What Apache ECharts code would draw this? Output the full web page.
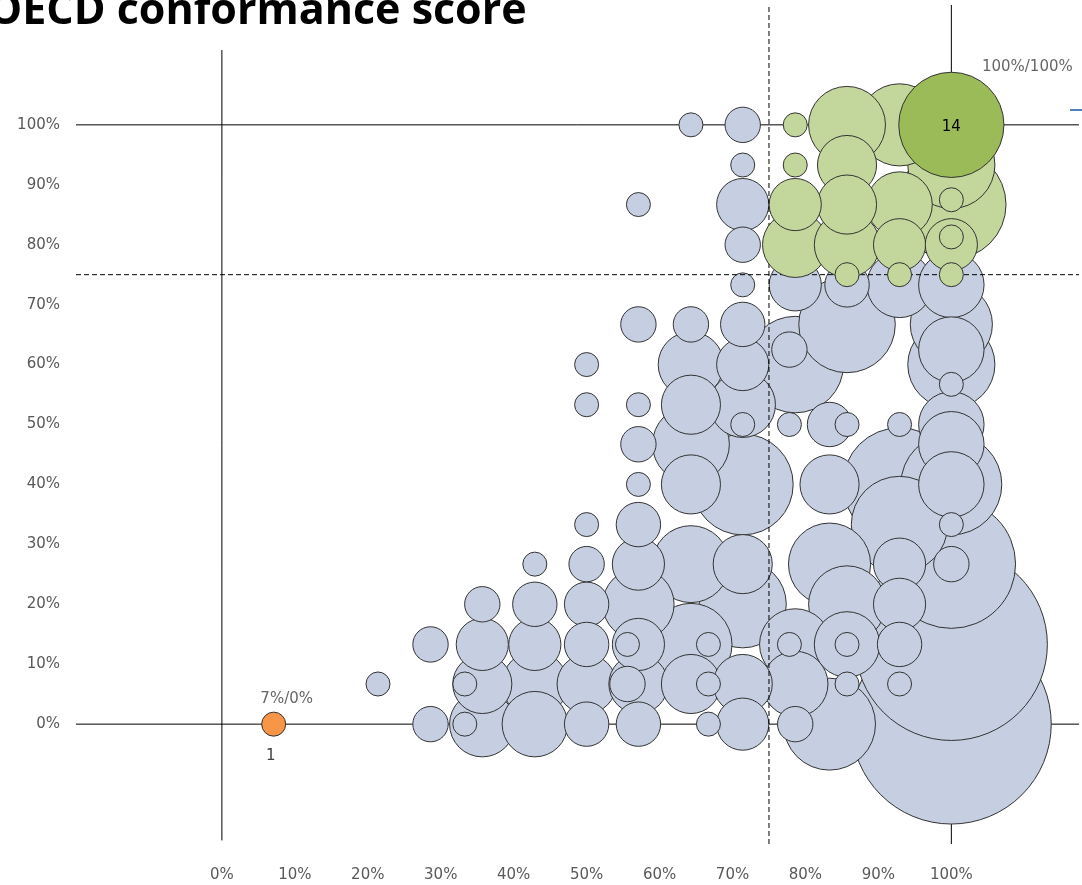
<!DOCTYPE html>
<html>
<head>
<meta charset="utf-8">
<title>OECD conformance score</title>
<script src="https://cdn.jsdelivr.net/npm/echarts@6/dist/echarts.min.js"></script>
<style>
  html, body { margin: 0; padding: 0; background: #fff; }
  #main { width: 1082px; height: 885px; }
</style>
</head>
<body>
<div id="main"></div>
<script>
// bubbles: [x %, y %, count]
var blueBubbles = [
    [21.4, 6.7, 1],
    [28.6, 13.3, 2], [28.6, 0, 2],
    [33.3, 6.7, 1], [33.3, 0, 1],
    [35.7, 20, 2], [35.7, 13.3, 4], [35.7, 6.7, 5], [35.7, 0, 6],
    [42.9, 26.7, 1], [42.9, 20, 3], [42.9, 13.3, 4], [42.9, 6.7, 6], [42.9, 0, 6],
    [50, 60, 1], [50, 53.3, 1], [50, 33.3, 1], [50, 26.7, 2], [50, 20, 3], [50, 13.3, 3], [50, 6.7, 5], [50, 0, 3],
    [55.6, 13.3, 1], [55.6, 6.7, 2],
    [57.1, 86.7, 1], [57.1, 66.7, 2], [57.1, 53.3, 1], [57.1, 46.7, 2], [57.1, 40, 1], [57.1, 33.3, 3],
    [57.1, 26.7, 4], [57.1, 20, 7], [57.1, 13.3, 4], [57.1, 6.7, 5], [57.1, 0, 3],
    [64.3, 100, 1], [64.3, 66.7, 2], [64.3, 60, 6], [64.3, 53.3, 5], [64.3, 46.7, 8], [64.3, 40, 5],
    [64.3, 26.7, 8], [64.3, 13.3, 9], [64.3, 6.7, 5],
    [66.7, 13.3, 1], [66.7, 6.7, 1], [66.7, 0, 1],
    [71.4, 100, 2], [71.4, 93.3, 1], [71.4, 86.7, 4], [71.4, 80, 2], [71.4, 73.3, 1], [71.4, 66.7, 3],
    [71.4, 60, 4], [71.4, 53.3, 6], [71.4, 50, 1], [71.4, 40, 13], [71.4, 26.7, 5], [71.4, 20, 10],
    [71.4, 6.7, 5], [71.4, 0, 4],
    [77.8, 62.5, 2], [77.8, 50, 1], [77.8, 13.3, 1],
    [78.6, 73.3, 4], [78.6, 60, 12], [78.6, 13.3, 7], [78.6, 6.7, 6], [78.6, 0, 2],
    [83.3, 50, 3], [83.3, 40, 5], [83.3, 26.7, 9], [83.3, 0, 11],
    [85.7, 73.3, 3], [85.7, 66.7, 12], [85.7, 50, 1], [85.7, 20, 8], [85.7, 13.3, 6], [85.7, 13.3, 1], [85.7, 6.7, 1],
    [92.9, 73.3, 6], [92.9, 50, 1], [92.9, 40, 16], [92.9, 33.3, 12], [92.9, 26.7, 4], [92.9, 20, 4],
    [92.9, 13.3, 3], [92.9, 6.7, 1],
    [100, 73.3, 6], [100, 66.7, 9], [100, 62.5, 6], [100, 60, 10], [100, 56.7, 1], [100, 50, 6],
    [100, 46.7, 6], [100, 40, 13], [100, 40, 6], [100, 33.3, 1], [100, 26.7, 20], [100, 26.7, 2],
    [100, 13.3, 41], [100, 0, 44]
];

var greenBubbles = [
    [78.6, 100, 1], [78.6, 93.3, 1], [78.6, 86.7, 4], [78.6, 80, 6],
    [85.7, 100, 8], [85.7, 93.3, 5], [85.7, 86.7, 5], [85.7, 80, 6], [85.7, 75, 1],
    [92.9, 100, 9], [92.9, 86.7, 6], [92.9, 80, 4], [92.9, 75, 1],
    [100, 93.3, 10], [100, 86.7, 15], [100, 87.5, 1], [100, 80, 4], [100, 81.3, 1], [100, 75, 1]
];

var bestBubble = [[100, 100, 14]];
var worstBubble = [[7.1, 0, 1]];

var X_MIN = -20, X_MAX = 117.5;
var Y_MIN = -20, Y_MAX = 120;

// reference lines [x1, y1, x2, y2, dashed]
var crossLines = [
    [0, -19.4, 0, 112.5, 0],
    [100, Y_MIN, 100, Y_MAX, 0],
    [X_MIN, 0, X_MAX, 0, 0],
    [X_MIN, 100, X_MAX, 100, 0],
    [75, Y_MIN, 75, Y_MAX, 1],
    [X_MIN, 75, X_MAX, 75, 1]
];

var FONT = 'DejaVu Sans';

function bubbleSize(d) {
    return 24 * Math.pow(d[2], 0.56);
}

function bySize(arr) {
    return arr.slice().sort(function (a, b) { return b[2] - a[2]; });
}

function pctLabel(v) {
    return (v >= 0 && v <= 100) ? Math.round(v) + '%' : '';
}

function xyLabel(p) {
    return Math.round(p.value[0]) + '%/' + Math.round(p.value[1]) + '%';
}

var chart = echarts.init(document.getElementById('main'));

var series = [];

crossLines.forEach(function (l) {
    series.push({
        type: 'line',
        data: [[l[0], l[1]], [l[2], l[3]]],
        symbol: 'none',
        silent: true,
        clip: false,
        z: l[4] ? 3 : 1,
        lineStyle: { color: '#000', width: 1, type: l[4] ? [5, 3] : 'solid' }
    });
});

function bubbleSeries(data, color, z) {
    return {
        type: 'scatter',
        data: bySize(data),
        symbolSize: bubbleSize,
        z: z,
        clip: false,
        itemStyle: { color: color, borderColor: '#333', borderWidth: 1, opacity: 1 }
    };
}

// invisible twin of a bubble, only carrying the "x%/y%" text
function xyLabelSeries(data, labelOpt) {
    return {
        type: 'scatter', data: data, symbolSize: bubbleSize, z: 6, silent: true, clip: false,
        itemStyle: { color: 'rgba(0,0,0,0)', borderWidth: 0 },
        label: Object.assign({
            show: true, color: '#404040', fontFamily: FONT, fontSize: 15, formatter: xyLabel
        }, labelOpt)
    };
}

series.push(bubbleSeries(blueBubbles, '#c5cfe1', 2));
series.push(bubbleSeries(greenBubbles, '#c3d69b', 4));

var best = bubbleSeries(bestBubble, '#9bbb59', 5);
best.label = {
    show: true, position: 'inside', offset: [0, 2], color: '#000', fontFamily: FONT, fontSize: 15,
    formatter: function (p) { return p.value[2]; }
};
series.push(best);
series.push(xyLabelSeries(bestBubble, { position: 'inside', offset: [76, -58] }));

var worst = bubbleSeries(worstBubble, '#f79646', 5);
worst.label = {
    show: true, position: 'bottom', distance: 12, offset: [-3, 0], color: '#404040',
    fontFamily: FONT, fontSize: 15, formatter: function (p) { return p.value[2]; }
};
series.push(worst);
series.push(xyLabelSeries(worstBubble, { position: 'top', distance: 6, offset: [13, 0] }));

var axisCommon = {
    type: 'value',
    interval: 10,
    axisLine: { show: false },
    axisTick: { show: false },
    splitLine: { show: false }
};

var option = {
    animation: false,
    backgroundColor: '#fff',
    title: {
        text: 'OECD conformance score',
        left: -17,
        top: -15,
        textStyle: { fontFamily: 'Open Sans', fontWeight: 'bold', fontSize: 43, color: '#000' }
    },
    grid: { left: 76, top: 5, right: 0, height: 839, containLabel: false },
    xAxis: Object.assign({}, axisCommon, {
        min: X_MIN, max: X_MAX,
        axisLabel: { formatter: pctLabel, margin: 24, color: '#595959', fontFamily: FONT, fontSize: 15 }
    }),
    yAxis: Object.assign({}, axisCommon, {
        min: Y_MIN, max: Y_MAX,
        axisLabel: { formatter: pctLabel, margin: 16, color: '#595959', fontFamily: FONT, fontSize: 15 }
    }),
    graphic: [{
        type: 'line',
        shape: { x1: 1070, y1: 110, x2: 1090, y2: 110 },
        style: { stroke: '#4f81bd', lineWidth: 2 }
    }],
    series: series
};

chart.setOption(option);
</script>
</body>
</html>
